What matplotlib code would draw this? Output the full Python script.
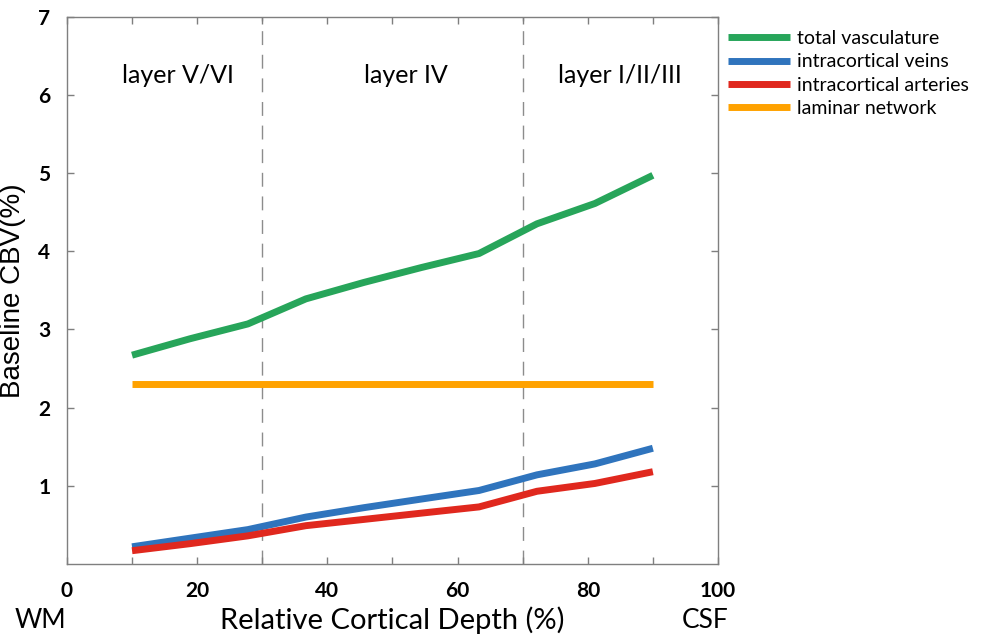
import matplotlib.pyplot as plt
from matplotlib.ticker import MultipleLocator

# depth positions of the samples (% of cortical depth)
depth = [10, 18.9, 27.8, 36.7, 45.6, 54.4, 63.3, 72.2, 81.1, 90]

# baseline CBV (%) per vessel class
total_vasc = [2.67, 2.88, 3.07, 3.39, 3.60, 3.79, 3.97, 4.35, 4.61, 4.97]
veins = [0.22, 0.33, 0.44, 0.60, 0.72, 0.83, 0.94, 1.14, 1.28, 1.48]
arteries = [0.17, 0.26, 0.36, 0.49, 0.57, 0.65, 0.73, 0.93, 1.03, 1.18]
laminar_depth = [10, 90]
laminar = [2.3, 2.3]

series_labels = ['total vasculature', 'intracortical veins',
                 'intracortical arteries', 'laminar network']
layer_names = ['layer V/VI', 'layer IV', 'layer I/II/III']
layer_centers = [17, 52, 85]
layer_bounds = [30, 70]

fig = plt.figure(figsize=(9.99, 6.37), dpi=100)
ax = fig.add_axes([0.067, 0.1146, 0.6517, 0.8594])

ax.plot(depth, total_vasc, color='#27a55a', lw=5, label=series_labels[0], solid_capstyle='butt')
ax.plot(depth, veins, color='#2f74bd', lw=5, label=series_labels[1], solid_capstyle='butt')
ax.plot(depth, arteries, color='#e0281e', lw=5, label=series_labels[2], solid_capstyle='butt')
ax.plot(laminar_depth, laminar, color='#ffa200', lw=5, label=series_labels[3], solid_capstyle='butt')

# layer boundaries
for b in layer_bounds:
    ax.axvline(b, color='#8c8c8c', lw=1, dashes=(10, 7), zorder=0)

for name, c in zip(layer_names, layer_centers):
    ax.text(c, 6.25, name, ha='center', va='center', fontsize=18, family='Lato')

ax.set_xlim(0, 100)
ax.set_ylim(0, 7)
ax.xaxis.set_major_locator(MultipleLocator(20))
ax.xaxis.set_minor_locator(MultipleLocator(10))
ax.set_yticks([1, 2, 3, 4, 5, 6, 7])

for s in ax.spines.values():
    s.set_color('#7f7f7f')
    s.set_linewidth(1)
ax.tick_params(which='both', direction='in', top=True, right=True, length=5,
               color='#7f7f7f', width=1)
ax.tick_params(which='major', labelsize=15, pad=12)
for lab in ax.get_xticklabels() + ax.get_yticklabels():
    lab.set_fontweight('bold')
    lab.set_family('Lato')

ax.set_ylabel('Baseline CBV(%)', fontsize=20, family='Liberation Sans')
ax.yaxis.set_label_coords(-0.063, 0.5)
ax.set_xlabel('Relative Cortical Depth (%)', fontsize=21, family='Lato', labelpad=4)
ax.text(-4, -0.72, 'WM', ha='center', va='center', fontsize=19, family='Lato')
ax.text(98, -0.72, 'CSF', ha='center', va='center', fontsize=19, family='Lato')

leg = fig.legend(*ax.get_legend_handles_labels(), loc='upper left',
                 bbox_to_anchor=(0.7287, 0.953), frameon=False,
                 prop={'family': 'Lato', 'size': 14}, handlelength=3.2,
                 handletextpad=0.35, labelspacing=0.33, borderpad=0,
                 borderaxespad=0)

plt.savefig('out.png', dpi=100)
